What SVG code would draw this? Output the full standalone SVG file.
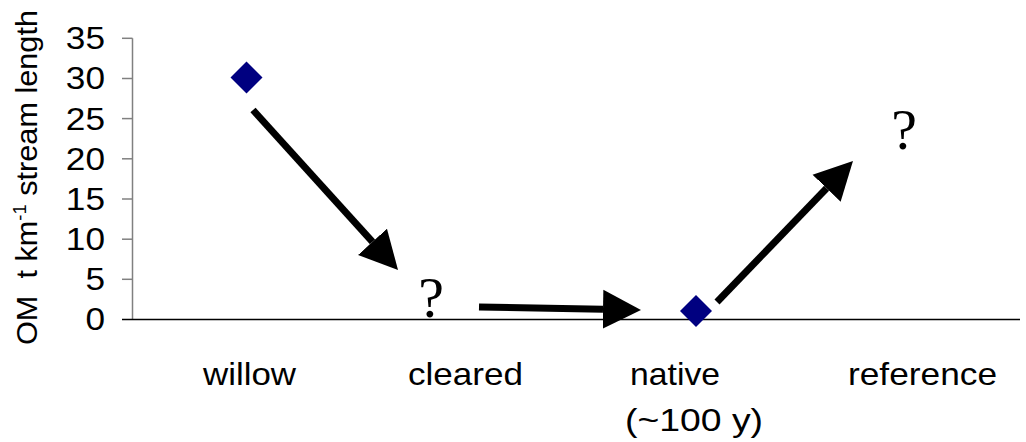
<svg xmlns="http://www.w3.org/2000/svg" width="1026" height="442" viewBox="0 0 1026 442">
<style>
.sans{font-family:"Liberation Sans",Arial,sans-serif;fill:#000}
.tick{font-size:32px;text-anchor:end}
.cat{font-size:32px}
.q{font-family:"Liberation Serif","Times New Roman",serif;font-size:58px;text-anchor:middle;fill:#000}
.pt{fill:#000080}
.arrow{stroke:#000;stroke-width:7;fill:none;stroke-linecap:butt}
</style>
<defs>
<marker id="head" viewBox="0 -20 40 40" markerWidth="40" markerHeight="40" refX="0" refY="0" orient="auto" markerUnits="userSpaceOnUse">
<path d="M0,-19.5 L38,0 L0,19.5 Z" fill="#000"/>
</marker>
</defs>
<rect width="1026" height="442" fill="#fff"/>
<g id="axes">
<line x1="132.5" y1="38.3" x2="132.5" y2="319.5" stroke="#808080" stroke-width="1.5"/>
<g stroke="#808080" stroke-width="1.5">
<line x1="122" y1="38.3" x2="132.5" y2="38.3"/>
<line x1="122" y1="78.5" x2="132.5" y2="78.5"/>
<line x1="122" y1="118.6" x2="132.5" y2="118.6"/>
<line x1="122" y1="158.8" x2="132.5" y2="158.8"/>
<line x1="122" y1="199" x2="132.5" y2="199"/>
<line x1="122" y1="239.2" x2="132.5" y2="239.2"/>
<line x1="122" y1="279.3" x2="132.5" y2="279.3"/>
</g>
<line x1="122" y1="319.5" x2="1020" y2="319.5" stroke="#000" stroke-width="1.5"/>
</g>
<g id="tick-labels" class="sans tick" transform="matrix(1.1 0 0 1 -10.5 0)">
<text x="105" y="49.5">35</text>
<text x="105" y="89.5">30</text>
<text x="105" y="129.6">25</text>
<text x="105" y="169.8">20</text>
<text x="105" y="210">15</text>
<text x="105" y="250.2">10</text>
<text x="105" y="290.3">5</text>
<text x="105" y="330.5">0</text>
</g>
<g id="y-label">
<text class="sans" font-size="30" transform="translate(37,345) rotate(-90)" x="0" y="0" textLength="335" lengthAdjust="spacingAndGlyphs">OM&#160; t km<tspan font-size="18" dy="-11">-1</tspan><tspan dy="11"> stream length</tspan></text>
</g>
<g id="category-labels" class="sans cat">
<text id="lbl-willow" x="203" y="385" textLength="93" lengthAdjust="spacingAndGlyphs">willow</text>
<text id="lbl-cleared" x="408" y="385" textLength="115" lengthAdjust="spacingAndGlyphs">cleared</text>
<text id="lbl-native" x="630" y="385" textLength="90" lengthAdjust="spacingAndGlyphs">native</text>
<text id="lbl-native2" x="625" y="431" textLength="138" lengthAdjust="spacingAndGlyphs">(~100 y)</text>
<text id="lbl-reference" x="848" y="385" textLength="149" lengthAdjust="spacingAndGlyphs">reference</text>
</g>
<g id="point-willow">
<polygon class="pt" points="246.5,61.5 262.5,77.5 246.5,93.5 230.5,77.5"/>
</g>
<g id="point-native">
<polygon class="pt" points="696,295 712,311 696,327 680,311"/>
</g>
<g id="q-cleared">
<text class="q" x="431" y="317">?</text>
</g>
<g id="q-reference">
<text class="q" x="904" y="149">?</text>
</g>
<g id="connectors">
<line class="arrow" x1="253" y1="110" x2="372.5" y2="241.8" marker-end="url(#head)"/>
<line class="arrow" x1="479" y1="307" x2="603" y2="309.3" marker-end="url(#head)"/>
<line class="arrow" x1="717" y1="302" x2="826.6" y2="188.3" marker-end="url(#head)"/>
</g>
</svg>
